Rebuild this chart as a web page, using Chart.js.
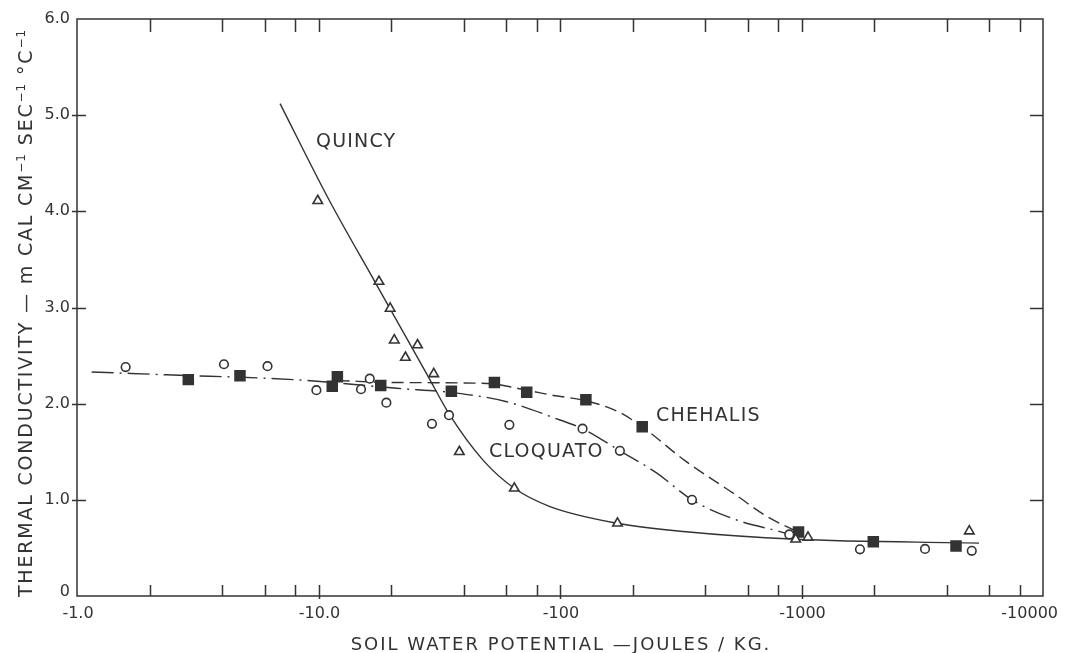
<!DOCTYPE html>
<html>
<head>
<meta charset="utf-8">
<script src="https://cdn.jsdelivr.net/npm/chart.js@4"></script>
<style>
  html, body { margin: 0; padding: 0; background: #fff; }
  canvas { display: block; }
</style>
</head>
<body>
<canvas id="conductivity-chart" width="1068" height="653"></canvas>
<script>
const INK = "#333";
const FONT = "'DejaVu Sans', sans-serif";

// potential is plotted by magnitude on a log axis, the labels carry the minus sign
const xTickValues = [1, 10, 100, 1000, 10000];
const xTickLabels = ["-1.0", "-10.0", "-100", "-1000", "-10000"];
const xMinorValues = [2, 4, 6, 8, 20, 40, 60, 80, 200, 400, 600, 800, 2000, 4000, 6000, 8000];
const yTickValues = [0, 1, 2, 3, 4, 5, 6];
const yTickLabels = ["0", "1.0", "2.0", "3.0", "4.0", "5.0", "6.0"];

// measured points
const quincyX = [9.93, 17.8, 19.8, 20.6, 25.7, 22.9, 30.0, 38.3, 64.7, 173, 946, 1064, 4952];
const quincyY = [4.11, 3.27, 2.99, 2.66, 2.61, 2.48, 2.31, 1.50, 1.12, 0.756, 0.59, 0.61, 0.675];

const cloquatoX = [1.59, 4.06, 6.15, 9.8, 15.0, 16.3, 19.1, 29.5, 34.7, 61.7, 124, 177, 352, 890, 1746, 3247, 5070];
const cloquatoY = [2.38, 2.41, 2.39, 2.14, 2.15, 2.26, 2.01, 1.79, 1.88, 1.78, 1.74, 1.51, 1.00, 0.64, 0.485, 0.49, 0.47];

const chehalisX = [2.89, 4.73, 11.97, 11.4, 18.1, 35.5, 53.5, 72.8, 128, 219, 972, 1983, 4363];
const chehalisY = [2.25, 2.29, 2.28, 2.18, 2.19, 2.13, 2.22, 2.12, 2.04, 1.76, 0.665, 0.565, 0.52];

// fitted curves
const quincyLineX = [6.93, 11.05, 17.1, 28.2, 35.0, 48.1, 64.7, 90.9, 173, 324, 946, 5430];
const quincyLineY = [5.12, 4.12, 3.27, 2.30, 1.88, 1.41, 1.12, 0.93, 0.756, 0.67, 0.59, 0.55];

const cloquatoLineX = [1.15, 2.35, 7.87, 21.1, 37.3, 60.2, 100, 124, 177, 251, 352, 539, 868, 986];
const cloquatoLineY = [2.33, 2.30, 2.25, 2.16, 2.11, 2.02, 1.83, 1.74, 1.51, 1.28, 1.00, 0.79, 0.65, 0.60];

const chehalisLineX = [12, 21, 50, 73, 92, 128, 173, 219, 328, 528, 727, 972];
const chehalisLineY = [2.24, 2.22, 2.21, 2.14, 2.09, 2.03, 1.92, 1.76, 1.41, 1.06, 0.82, 0.665];

function toPoints(xs, ys) {
  return xs.map((x, i) => ({ x: x, y: ys[i] }));
}

function lineDataset(xs, ys, dash) {
  return {
    data: toPoints(xs, ys),
    showLine: true,
    pointRadius: 0,
    borderColor: INK,
    borderWidth: 1.4,
    borderDash: dash,
    cubicInterpolationMode: "monotone",
    fill: false,
    order: 1,
  };
}

function markerDataset(xs, ys, style, radius, fillColor) {
  return {
    data: toPoints(xs, ys),
    showLine: false,
    pointStyle: style,
    pointRadius: radius,
    pointBackgroundColor: fillColor,
    pointBorderColor: INK,
    pointBorderWidth: 1.6,
    order: 0,
  };
}

// draws text pieces one after another (used for superscripts)
function drawRuns(ctx, runs, cx, baseline) {
  let total = 0;
  runs.forEach((r) => {
    ctx.font = r.size + "px " + FONT;
    ctx.letterSpacing = (r.spacing || 0) + "px";
    r.w = ctx.measureText(r.text).width;
    total += r.w;
  });
  let x = cx - total / 2;
  runs.forEach((r) => {
    ctx.font = r.size + "px " + FONT;
    ctx.letterSpacing = (r.spacing || 0) + "px";
    ctx.fillText(r.text, x, baseline - (r.raise || 0));
    x += r.w;
  });
}

// frame, inward ticks and all lettering
const axesFrame = {
  id: "axesFrame",
  afterDatasetsDraw(chart) {
    const { ctx, chartArea: a } = chart;
    const xs = chart.scales.x;
    const ys = chart.scales.y;

    ctx.save();
    ctx.strokeStyle = INK;
    ctx.lineWidth = 1.5;
    ctx.strokeRect(a.left, a.top, a.right - a.left, a.bottom - a.top);

    ctx.beginPath();
    xMinorValues.forEach((v) => {
      const px = Math.round(xs.getPixelForValue(v)) + 0.5;
      ctx.moveTo(px, a.bottom);
      ctx.lineTo(px, a.bottom - 11);
      ctx.moveTo(px, a.top);
      ctx.lineTo(px, a.top + 13);
    });
    xTickValues.slice(1, -1).forEach((v) => {
      const px = Math.round(xs.getPixelForValue(v)) + 0.5;
      ctx.moveTo(px, a.bottom + 3);
      ctx.lineTo(px, a.bottom - 11);
      ctx.moveTo(px, a.top);
      ctx.lineTo(px, a.top + 13);
    });
    yTickValues.slice(1, -1).forEach((v) => {
      const py = Math.round(ys.getPixelForValue(v)) + 0.5;
      ctx.moveTo(a.left - 5, py);
      ctx.lineTo(a.left + 9, py);
      ctx.moveTo(a.right, py);
      ctx.lineTo(a.right - 13, py);
    });
    ctx.stroke();

    ctx.fillStyle = INK;
    ctx.font = "16px " + FONT;
    ctx.letterSpacing = "0px";

    // y tick labels
    ctx.textAlign = "right";
    ctx.textBaseline = "middle";
    yTickValues.forEach((v, i) => {
      const py = ys.getPixelForValue(v);
      ctx.fillText(yTickLabels[i], a.left - 7, i === 0 ? py - 4 : py);
    });

    // x tick labels
    ctx.textBaseline = "alphabetic";
    xTickValues.forEach((v, i) => {
      const px = xs.getPixelForValue(v);
      if (i === xTickValues.length - 1) {
        ctx.textAlign = "right";
        ctx.fillText(xTickLabels[i], px + 15, a.bottom + 22);
      } else {
        ctx.textAlign = "center";
        ctx.fillText(xTickLabels[i], px + 1, a.bottom + 22);
      }
    });

    // x axis title
    ctx.textAlign = "left";
    drawRuns(ctx, [{ text: "SOIL WATER POTENTIAL —JOULES / KG.", size: 18, spacing: 2 }], 561, 650);

    // y axis title, rotated
    ctx.save();
    ctx.translate(32, 313);
    ctx.rotate(-Math.PI / 2);
    drawRuns(ctx, [
      { text: "THERMAL CONDUCTIVITY — m CAL CM", size: 19, spacing: 1.8 },
      { text: "−1", size: 12, raise: 7, spacing: 1 },
      { text: " SEC", size: 19, spacing: 1.8 },
      { text: "−1", size: 12, raise: 7, spacing: 1 },
      { text: " °C", size: 19, spacing: 1.8 },
      { text: "−1", size: 12, raise: 7, spacing: 1 },
    ], 0, 0);
    ctx.restore();

    // curve names
    ctx.font = "19px " + FONT;
    ctx.letterSpacing = "1.2px";
    ctx.textAlign = "left";
    ctx.fillText("QUINCY", 316, 147);
    ctx.fillText("CHEHALIS", 656, 421);
    ctx.fillText("CLOQUATO", 489, 457);

    ctx.restore();
  },
};

new Chart(document.getElementById("conductivity-chart"), {
  type: "scatter",
  data: {
    datasets: [
      lineDataset(quincyLineX, quincyLineY, []),
      lineDataset(cloquatoLineX, cloquatoLineY, [22, 6, 2, 6]),
      lineDataset(chehalisLineX, chehalisLineY, [12, 6]),
      markerDataset(quincyX, quincyY, "triangle", 5.5, "#fff"),
      markerDataset(cloquatoX, cloquatoY, "circle", 4.3, "#fff"),
      markerDataset(chehalisX, chehalisY, "rect", 7, INK),
    ],
  },
  options: {
    responsive: false,
    animation: false,
    devicePixelRatio: 1,
    events: [],
    layout: { padding: { left: 77, top: 19, right: 25, bottom: 57 } },
    scales: {
      x: { type: "logarithmic", min: 1, max: 10000, display: false },
      y: { type: "linear", min: 0, max: 6, display: false },
    },
    plugins: {
      legend: { display: false },
      tooltip: { enabled: false },
    },
  },
  plugins: [axesFrame],
});
</script>
</body>
</html>
